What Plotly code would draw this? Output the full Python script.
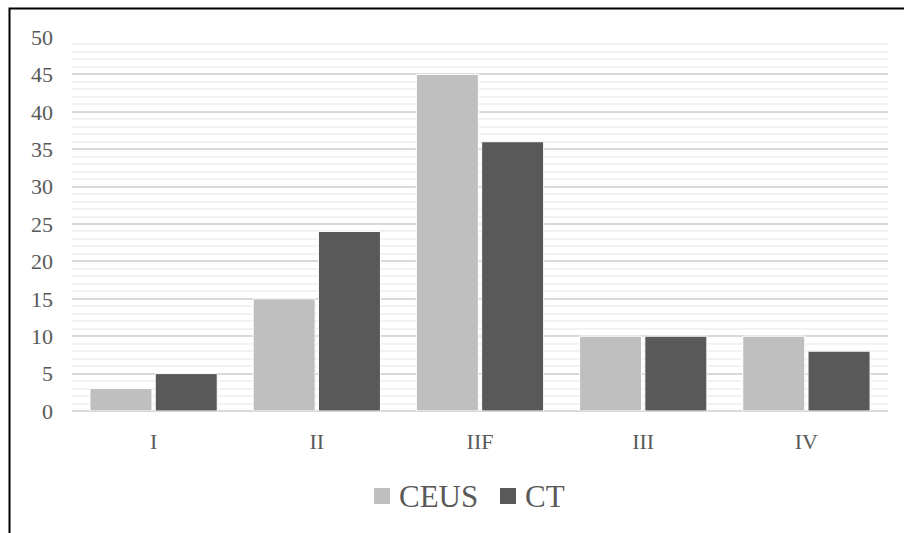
import plotly.graph_objects as go

categories = ["I", "II", "IIF", "III", "IV"]
ceus_values = [3, 15, 45, 10, 10]
ct_values = [5, 24, 36, 10, 8]
y_ticks = [0, 5, 10, 15, 20, 25, 30, 35, 40, 45, 50]
series_names = ["CEUS", "CT"]
series_colors = ["#BFBFBF", "#595959"]

W, H = 904, 533
L, R, T, B = 72, 16, 37, 122
plot_w = W - L - R
plot_h = H - T - B


def px_x(px):
    return (px - L) / plot_w


def px_y(py):
    return (H - B - py) / plot_h


font_family = "Liberation Serif, Times New Roman, serif"
text_color = "#595959"

fig = go.Figure()
for name, values, color in zip(series_names, [ceus_values, ct_values], series_colors):
    fig.add_trace(go.Bar(
        name=name, x=categories, y=values,
        marker=dict(color=color, line=dict(color="white", width=1)),
        showlegend=False,
    ))

fig.update_layout(
    width=W, height=H,
    margin=dict(l=L, r=R, t=T, b=B),
    paper_bgcolor="white",
    plot_bgcolor="white",
    barmode="group",
    bargap=0.2,
    bargroupgap=0.05,
    font=dict(family=font_family, color=text_color, size=20),
)

fig.update_xaxes(
    showgrid=False,
    showline=False,
    zeroline=False,
    ticks="",
    ticklabelstandoff=15,
    tickfont=dict(size=22, color=text_color, family=font_family),
)

fig.update_yaxes(
    range=[0, 50],
    tickvals=y_ticks,
    showgrid=True,
    gridcolor="#D9D9D9",
    gridwidth=1.5,
    minor=dict(dtick=1, showgrid=True, gridcolor="#F2F2F2", gridwidth=1.5),
    zeroline=True,
    zerolinecolor="#D9D9D9",
    zerolinewidth=2,
    showline=False,
    ticks="",
    ticklabelstandoff=18,
    tickfont=dict(size=22, color=text_color, family=font_family),
)

# legend below the plot: colour key squares followed by series names
legend_items = [(374, 397), (500, 523)]
for (sq_x, txt_x), name, color in zip(legend_items, series_names, series_colors):
    fig.add_shape(
        type="rect", xref="paper", yref="paper",
        x0=px_x(sq_x), x1=px_x(sq_x + 16),
        y0=px_y(504), y1=px_y(488),
        fillcolor=color, line=dict(width=0),
    )
    fig.add_annotation(
        xref="paper", yref="paper",
        x=px_x(txt_x), y=px_y(496),
        xanchor="left", yanchor="middle",
        text=name, showarrow=False,
        font=dict(size=31, color=text_color, family=font_family),
    )

# chart frame: left and top edges of the outer border
x_left = px_x(9.5)
y_top = px_y(8.5)
fig.add_shape(
    type="path", xref="paper", yref="paper",
    path=f"M {x_left} {px_y(H + 5)} L {x_left} {y_top} L {px_x(W + 5)} {y_top}",
    line=dict(color="black", width=2),
)

fig.write_html("out.html")
